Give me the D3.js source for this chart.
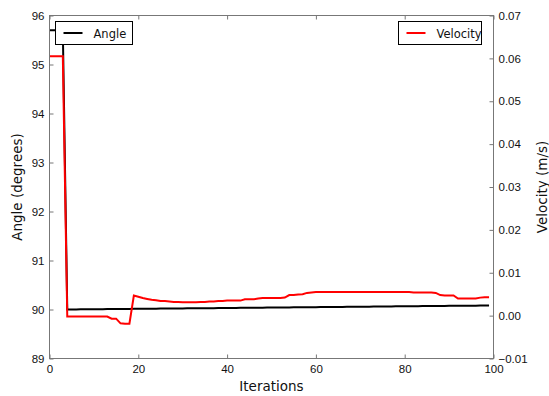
<!DOCTYPE html>
<html>
<head>
<meta charset="utf-8">
<script src="https://cdn.jsdelivr.net/npm/d3@7"></script>
<style>
  body { margin: 0; background: #fff; }
  svg { display: block; font-family: "DejaVu Sans", sans-serif; }
</style>
</head>
<body>
<script>
// data
const iterations = d3.range(0, 100);

const angle = [
  95.7, 95.7, 95.7, 95.7, 90.000, 90.001, 90.002, 90.003, 90.004, 90.004,
  90.005, 90.006, 90.007, 90.008, 90.009, 90.010, 90.010, 90.011, 90.012, 90.013,
  90.014, 90.015, 90.016, 90.016, 90.017, 90.018, 90.019, 90.020, 90.021, 90.022,
  90.022, 90.023, 90.024, 90.025, 90.026, 90.027, 90.028, 90.028, 90.029, 90.030,
  90.031, 90.032, 90.033, 90.034, 90.034, 90.035, 90.036, 90.037, 90.038, 90.039,
  90.040, 90.040, 90.041, 90.042, 90.043, 90.044, 90.045, 90.046, 90.046, 90.047,
  90.048, 90.049, 90.050, 90.051, 90.052, 90.052, 90.053, 90.054, 90.055, 90.056,
  90.057, 90.058, 90.058, 90.059, 90.060, 90.061, 90.062, 90.063, 90.064, 90.064,
  90.065, 90.066, 90.067, 90.068, 90.069, 90.070, 90.070, 90.071, 90.072, 90.073,
  90.074, 90.075, 90.076, 90.076, 90.077, 90.078, 90.079, 90.080, 90.081, 90.082
];

const velocity = [
  0.0605, 0.0605, 0.0605, 0.0605, -0.0002, -0.0002, -0.0002, -0.0002, -0.0002, -0.0002,
  -0.0002, -0.0002, -0.0002, -0.0002, -0.0007, -0.0007, -0.0018, -0.0019, -0.0019, 0.0047,
  0.0044, 0.0041, 0.0039, 0.0037, 0.0036, 0.0034, 0.0034, 0.0033, 0.0032, 0.0032,
  0.0031, 0.0031, 0.0031, 0.0031, 0.0032, 0.0032, 0.0033, 0.0033, 0.0034, 0.0034,
  0.0035, 0.0035, 0.0035, 0.0035, 0.0038, 0.0038, 0.0038, 0.0040, 0.0041, 0.0041,
  0.0041, 0.0041, 0.0041, 0.0042, 0.0048, 0.0048, 0.0049, 0.0050, 0.0053, 0.0054,
  0.0055, 0.0055, 0.0055, 0.0055, 0.0055, 0.0055, 0.0055, 0.0055, 0.0055, 0.0055,
  0.0055, 0.0055, 0.0055, 0.0055, 0.0055, 0.0055, 0.0055, 0.0055, 0.0055, 0.0055,
  0.0055, 0.0055, 0.0054, 0.0054, 0.0054, 0.0054, 0.0054, 0.0053, 0.0048, 0.0047,
  0.0047, 0.0047, 0.0040, 0.0040, 0.0040, 0.0040, 0.0040, 0.0042, 0.0043, 0.0043
];

const xTicks = [0, 20, 40, 60, 80, 100];
const angleTicks = [89, 90, 91, 92, 93, 94, 95, 96];
const velocityTicks = [-0.01, 0.00, 0.01, 0.02, 0.03, 0.04, 0.05, 0.06, 0.07];

const W = 549, H = 396;
const m = { left: 49.5, right: 493.5, top: 15.5, bottom: 358.5 };
const spine = "#777";

const x = d3.scaleLinear().domain([0, 100]).range([m.left, m.right]);
const yA = d3.scaleLinear().domain([89, 96]).range([m.bottom, m.top]);
const yV = d3.scaleLinear().domain([-0.01, 0.07]).range([m.bottom, m.top]);

const svg = d3.select("body").append("svg")
  .attr("width", W)
  .attr("height", H);

// clip lines to the plot box
svg.append("defs").append("clipPath").attr("id", "plot")
  .append("rect")
  .attr("x", m.left).attr("y", m.top)
  .attr("width", m.right - m.left).attr("height", m.bottom - m.top);

const lineA = d3.line().x((d, i) => x(iterations[i])).y(d => yA(d));
const lineV = d3.line().x((d, i) => x(iterations[i])).y(d => yV(d));

const g = svg.append("g").attr("clip-path", "url(#plot)");
g.append("path").datum(angle)
  .attr("d", lineA)
  .attr("fill", "none").attr("stroke", "#000").attr("stroke-width", 2);
g.append("path").datum(velocity)
  .attr("d", lineV)
  .attr("fill", "none").attr("stroke", "#ff0000").attr("stroke-width", 2);

// axes, matplotlib classic: ticks pointing inward
function styleAxis(sel) {
  sel.select(".domain").remove();
  sel.selectAll(".tick line").attr("stroke", spine);
  sel.selectAll(".tick text").attr("fill", "#111").style("font-size", "11.5px");
}

svg.append("g")
  .attr("transform", `translate(0,${m.bottom})`)
  .call(d3.axisBottom(x).tickValues(xTicks).tickSizeInner(-4).tickPadding(6).tickFormat(d3.format("d")))
  .call(styleAxis);

svg.append("g")
  .attr("transform", `translate(0,${m.top})`)
  .call(d3.axisTop(x).tickValues(xTicks).tickSizeInner(-4).tickFormat(""))
  .call(styleAxis);

svg.append("g")
  .attr("transform", `translate(${m.left},0)`)
  .call(d3.axisLeft(yA).tickValues(angleTicks).tickSizeInner(-4).tickPadding(5).tickFormat(d3.format("d")))
  .call(styleAxis);

svg.append("g")
  .attr("transform", `translate(${m.right},0)`)
  .call(d3.axisRight(yV).tickValues(velocityTicks).tickSizeInner(-4).tickPadding(5)
    .tickFormat(d => d3.format(".2f")(d).replace("-", "\u2212")))
  .call(styleAxis);

// frame
svg.append("rect")
  .attr("x", m.left).attr("y", m.top)
  .attr("width", m.right - m.left).attr("height", m.bottom - m.top)
  .attr("fill", "none").attr("stroke", spine).attr("stroke-width", 1);

// axis labels
svg.append("text")
  .attr("x", (m.left + m.right) / 2).attr("y", 391)
  .attr("text-anchor", "middle")
  .attr("fill", "#111")
  .style("font-size", "13.5px")
  .text("Iterations");

svg.append("text")
  .attr("transform", `translate(22,${(m.top + m.bottom) / 2}) rotate(-90)`)
  .attr("text-anchor", "middle")
  .attr("fill", "#111")
  .style("font-size", "13.5px")
  .text("Angle (degrees)");

svg.append("text")
  .attr("transform", `translate(547,${(m.top + m.bottom) / 2}) rotate(-90)`)
  .attr("text-anchor", "middle")
  .attr("fill", "#111")
  .style("font-size", "13.5px")
  .text("Velocity (m/s)");

// legends
function legend(bx, by, bw, label, color) {
  const lg = svg.append("g").attr("transform", `translate(${bx},${by})`);
  lg.append("rect")
    .attr("width", bw).attr("height", 23)
    .attr("fill", "#fff").attr("stroke", "#000").attr("stroke-width", 1);
  lg.append("line")
    .attr("x1", 8).attr("x2", 27).attr("y1", 11.5).attr("y2", 11.5)
    .attr("stroke", color).attr("stroke-width", 2);
  lg.append("text")
    .attr("x", 38).attr("y", 16)
    .attr("fill", "#111")
    .style("font-size", "11.5px")
    .text(label);
}
legend(55.5, 21.5, 77, "Angle", "#000");
legend(398.5, 21.5, 83, "Velocity", "#ff0000");
</script>
</body>
</html>
